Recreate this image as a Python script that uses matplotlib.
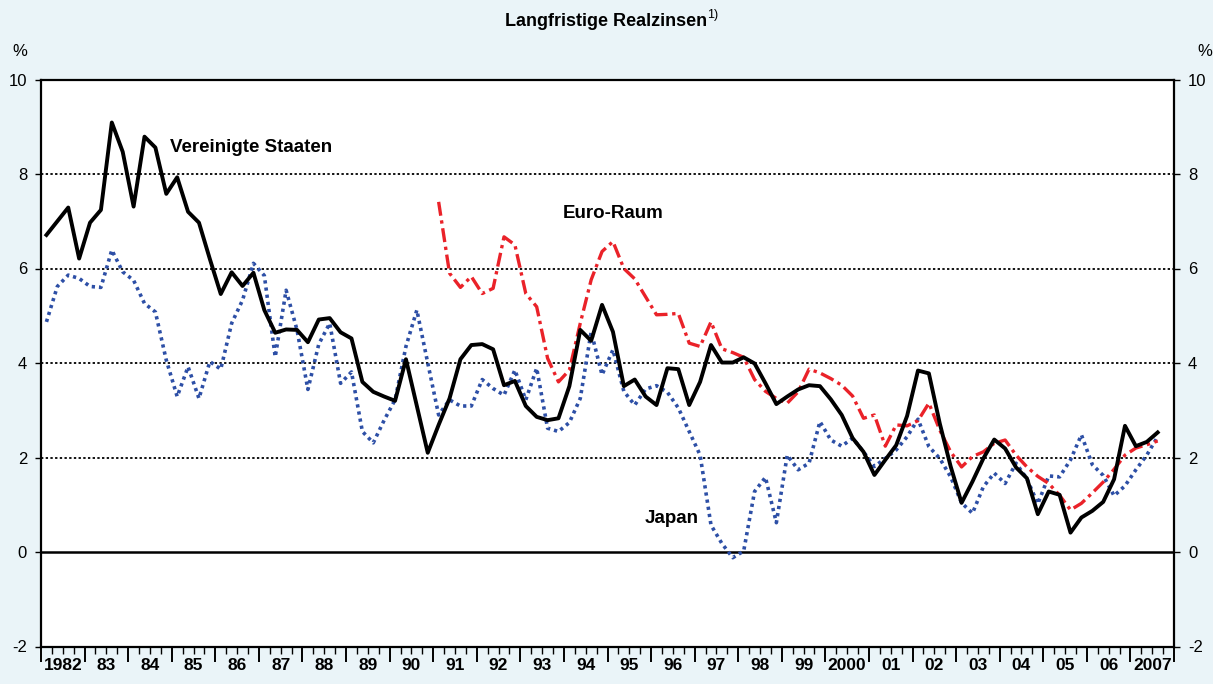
import numpy as np
import matplotlib
matplotlib.use("Agg")
import matplotlib.pyplot as plt
from matplotlib.ticker import MultipleLocator

plt.rcParams['font.family'] = ['Liberation Sans', 'DejaVu Sans']
plt.rcParams['axes.unicode_minus'] = False

# Quartalswerte, 1982 Q1 bis 2007 Q3 (in %)
usa = [6.71, 7.00, 7.29, 6.21, 6.97, 7.24, 9.09, 8.47, 7.31, 8.79,
       8.56, 7.58, 7.93, 7.20, 6.97, 6.20, 5.46, 5.92, 5.63, 5.91,
       5.12, 4.64, 4.71, 4.70, 4.44, 4.92, 4.95, 4.65, 4.52, 3.60,
       3.39, 3.29, 3.20, 4.08, 3.09, 2.10, 2.69, 3.25, 4.08, 4.38,
       4.40, 4.29, 3.53, 3.62, 3.09, 2.86, 2.79, 2.83, 3.51, 4.70,
       4.47, 5.23, 4.66, 3.51, 3.65, 3.29, 3.11, 3.89, 3.87, 3.11,
       3.60, 4.38, 4.01, 4.01, 4.12, 3.99, 3.57, 3.13, 3.29, 3.44,
       3.53, 3.51, 3.23, 2.90, 2.41, 2.12, 1.63, 1.95, 2.26, 2.88,
       3.84, 3.78, 2.72, 1.81, 1.04, 1.49, 1.98, 2.38, 2.19, 1.79,
       1.56, 0.80, 1.28, 1.21, 0.41, 0.73, 0.87, 1.06, 1.54, 2.67,
       2.24, 2.33, 2.53]

japan = [4.87, 5.62, 5.86, 5.79, 5.62, 5.60, 6.39, 5.93, 5.75, 5.26,
         5.08, 4.06, 3.29, 3.92, 3.25, 4.03, 3.87, 4.84, 5.33, 6.11,
         5.85, 4.13, 5.54, 4.70, 3.44, 4.40, 4.84, 3.57, 3.81, 2.55,
         2.31, 2.79, 3.22, 4.35, 5.12, 4.00, 2.90, 3.22, 3.09, 3.09,
         3.65, 3.46, 3.32, 3.85, 3.22, 3.89, 2.62, 2.55, 2.74, 3.25,
         4.66, 3.75, 4.28, 3.40, 3.11, 3.45, 3.52, 3.38, 3.05, 2.55,
         2.05, 0.57, 0.18, -0.12, 0.02, 1.28, 1.58, 0.62, 2.05, 1.74,
         1.88, 2.76, 2.37, 2.24, 2.41, 2.12, 1.81, 1.98, 2.16, 2.44,
         2.81, 2.23, 1.98, 1.59, 1.04, 0.82, 1.38, 1.67, 1.45, 1.88,
         1.55, 1.02, 1.61, 1.59, 1.95, 2.48, 1.85, 1.62, 1.19, 1.40,
         1.74, 2.05, 2.44]

# Euro-Raum ab 1991 Q1
euro = [7.41, 5.90, 5.60, 5.83, 5.47, 5.58, 6.67, 6.50, 5.47, 5.19,
        4.10, 3.60, 3.85, 4.84, 5.76, 6.36, 6.57, 6.00, 5.78, 5.40,
        5.02, 5.03, 5.05, 4.42, 4.35, 4.87, 4.30, 4.22, 4.12, 3.65,
        3.40, 3.25, 3.15, 3.39, 3.87, 3.79, 3.67, 3.53, 3.30, 2.83,
        2.90, 2.24, 2.69, 2.67, 2.78, 3.15, 2.58, 2.12, 1.80, 2.02,
        2.12, 2.30, 2.37, 2.05, 1.80, 1.60, 1.45, 1.20, 0.89, 1.03,
        1.25, 1.48, 1.75, 2.05, 2.20, 2.27, 2.35]

year_labels = ['1982', '83', '84', '85', '86', '87', '88', '89', '90', '91',
               '92', '93', '94', '95', '96', '97', '98', '99', '2000', '01',
               '02', '03', '04', '05', '06', '2007']

t_us = 1982 + (np.arange(len(usa)) + 0.5) / 4
t_jp = 1982 + (np.arange(len(japan)) + 0.5) / 4
t_eu = 1991 + (np.arange(len(euro)) + 0.5) / 4

bg = '#eaf4f8'
fig = plt.figure(figsize=(12.13, 6.84), dpi=100, facecolor=bg)
ax = fig.add_axes([41 / 1213, 1 - 646.5 / 684, (1174 - 41) / 1213, (646.5 - 79.5) / 684])
ax.set_facecolor('white')

ax.set_xlim(1982, 2008)
ax.set_ylim(-2, 10)

# Gitterlinien
for g in [2, 4, 6, 8]:
    ax.axhline(g, color='black', lw=1.3, linestyle=(0, (1.3, 1.3)), zorder=1)
ax.axhline(0, color='black', lw=1.8, zorder=2)

ax.plot(t_jp, japan, color='#2d4fa6', lw=2.6, linestyle=(0, (0.9, 1.1)), zorder=3)
ax.plot(t_eu, euro, color='#ea2229', lw=2.4, linestyle=(0, (4.2, 1.4, 1.0, 1.4)), zorder=4)
ax.plot(t_us, usa, color='black', lw=2.8, zorder=5)

ax.text(1984.95, 8.57, 'Vereinigte Staaten', fontsize=13.5, fontweight='bold', va='center')
ax.text(1993.97, 7.17, 'Euro-Raum', fontsize=13.5, fontweight='bold', va='center')
ax.text(1995.85, 0.70, 'Japan', fontsize=13.5, fontweight='bold', va='center')

# Achsen
for s in ax.spines.values():
    s.set_linewidth(1.6)
    s.set_color('black')

ax.yaxis.set_major_locator(MultipleLocator(2))
ax.tick_params(axis='y', which='major', direction='out', length=4, width=1,
               labelsize=12, pad=6, left=True, right=True, labelleft=True, labelright=True)

ax.xaxis.set_major_locator(MultipleLocator(1))
ax.xaxis.set_minor_locator(MultipleLocator(0.25))
ax.tick_params(axis='x', which='major', direction='out', length=11, width=1.4, labelbottom=False)
ax.tick_params(axis='x', which='minor', direction='out', length=5, width=1)

for k, lab in enumerate(year_labels):
    ax.text(1982.5 + k, -0.034, lab, transform=ax.get_xaxis_transform(),
            ha='center', va='center', fontsize=12.5, fontweight='bold')

fig.text(12 / 1213, 1 - 52 / 684, '%', fontsize=12, ha='left', va='center')
fig.text(1197 / 1213, 1 - 52 / 684, '%', fontsize=12, ha='left', va='center')

fig.text(707 / 1213, 1 - 22 / 684, 'Langfristige Realzinsen', fontsize=13,
         fontweight='bold', ha='right', va='center')
fig.text(707.5 / 1213, 1 - 15 / 684, '1)', fontsize=9, ha='left', va='center')

fig.savefig('out.png', dpi=100, facecolor=bg)
